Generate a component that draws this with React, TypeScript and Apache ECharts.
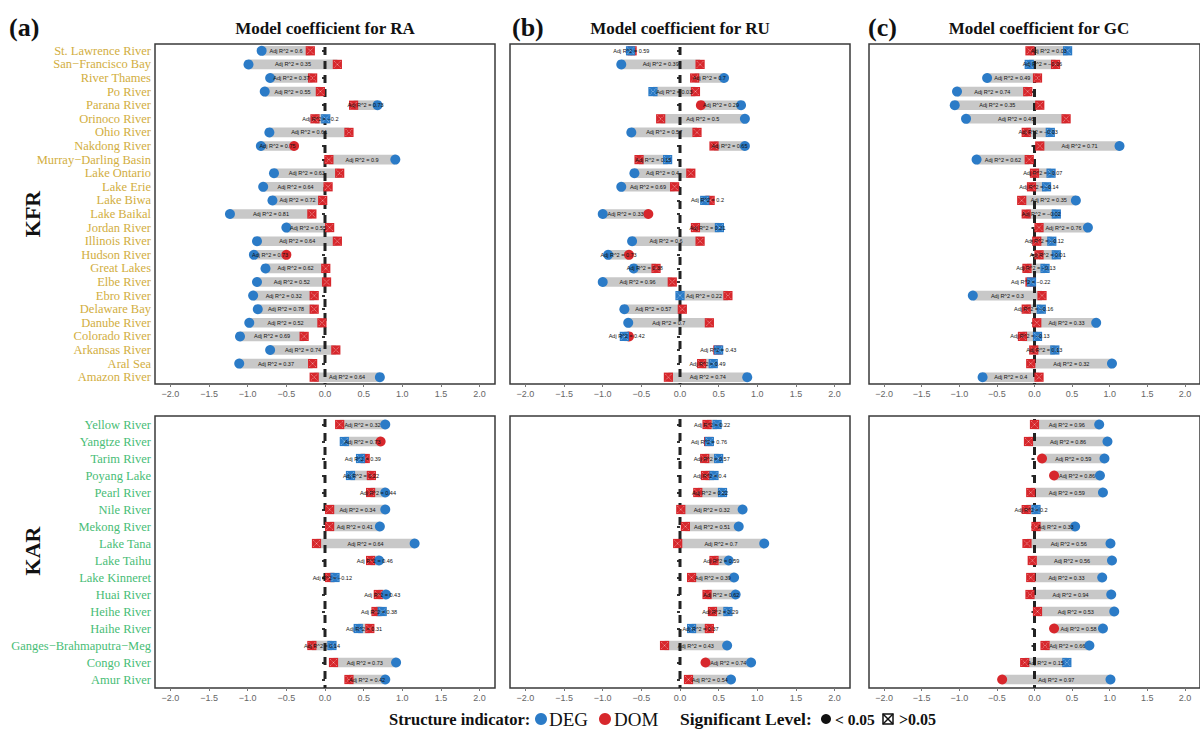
import React, { useEffect, useRef } from "react";
import * as echarts from "echarts";

const kfrNames = ["St. Lawrence River","San−Francisco Bay","River Thames","Po River","Parana River","Orinoco River","Ohio River","Nakdong River","Murray−Darling Basin","Lake Ontario","Lake Erie","Lake Biwa","Lake Baikal","Jordan River","Illinois River","Hudson River","Great Lakes","Elbe River","Ebro River","Delaware Bay","Danube River","Colorado River","Arkansas River","Aral Sea","Amazon River"];
const karNames = ["Yellow River","Yangtze River","Tarim River","Poyang Lake","Pearl River","Nile River","Mekong River","Lake Tana","Lake Taihu","Lake Kinneret","Huai River","Heihe River","Haihe River","Ganges−Brahmaputra−Meghna","Congo River","Amur River"];
const xTicks = [-2, -1.5, -1, -0.5, 0, 0.5, 1, 1.5, 2];
const panelTitles = ["Model coefficient for RA", "Model coefficient for RU", "Model coefficient for GC"];
const panelTags = ["(a)", "(b)", "(c)"];

// RA
const raKfrDeg = [-0.82,-0.99,-0.71,-0.78,0.68,0.01,-0.72,-0.83,0.91,-0.66,-0.80,-0.68,-1.23,-0.50,-0.88,-0.92,-0.77,-0.88,-0.93,-0.87,-0.98,-1.10,-0.71,-1.11,0.71];
const raKfrDegSig = [1,1,1,1,1,0,1,1,1,1,1,1,1,1,1,1,1,1,1,1,1,1,1,1,1];
const raKfrDom = [-0.19,0.16,-0.16,-0.06,0.37,-0.13,0.31,-0.40,0.05,0.19,0.04,-0.03,-0.17,0.06,0.16,-0.50,0.01,0.02,-0.14,-0.14,-0.04,-0.27,0.14,-0.16,-0.14];
const raKfrDomSig = [0,0,0,0,0,0,0,1,0,0,0,0,0,0,0,1,0,0,0,0,0,0,0,0,0];
const raKfrR2 = ["0.6","0.35","0.37","0.55","0.73","−0.2","0.61","0.75","0.9","0.63","0.64","0.72","0.81","0.55","0.64","0.73","0.62","0.52","0.32","0.78","0.52","0.69","0.74","0.37","0.64"];

const raKarDeg = [0.78,0.25,0.46,0.33,0.78,0.78,0.71,1.16,0.70,0.13,0.79,0.74,0.43,0.09,0.92,0.78];
const raKarDegSig = [1,0,0,0,1,1,1,1,1,0,1,0,0,0,1,1];
const raKarDom = [0.19,0.72,0.52,0.60,0.59,0.06,0.06,-0.11,0.59,0.06,0.69,0.66,0.58,-0.17,0.11,0.31];
const raKarDomSig = [0,1,0,0,0,0,0,0,0,0,0,0,0,0,0,0];
const raKarR2 = ["0.32","0.73","0.39","0.22","0.44","0.34","0.41","0.64","0.46","−0.12","0.43","0.38","0.31","0.14","0.73","0.42"];

// RU
const ruKfrDeg = [-0.64,-0.76,0.57,-0.35,0.79,0.84,-0.63,0.84,-0.16,-0.59,-0.76,0.32,-1.0,0.51,-0.62,-0.93,-0.60,-1.0,0.0,-0.72,-0.67,-0.72,0.50,0.43,0.87];
const ruKfrDegSig = [0,1,1,0,1,1,1,1,0,1,1,0,1,0,1,1,1,1,0,1,1,0,0,0,1];
const ruKfrDom = [-0.62,0.26,0.19,0.20,0.27,-0.25,0.22,0.44,-0.53,0.14,-0.07,0.39,-0.41,0.20,0.26,-0.66,-0.31,-0.10,0.62,0.03,0.38,-0.66,0.49,0.28,-0.15];
const ruKfrDomSig = [0,0,0,0,1,0,0,0,0,0,0,0,1,0,0,1,0,0,0,0,0,1,0,0,0];
const ruKfrR2 = ["0.59","0.39","0.7","0.03","0.29","0.5","0.57","0.65","0.15","0.4","0.69","0.2","0.33","0.21","0.6","0.73","0.38","0.96","0.22","0.57","0.7","0.42","0.43","0.49","0.74"];

const ruKarDeg = [0.48,0.38,0.50,0.44,0.55,0.81,0.76,1.09,0.63,0.70,0.72,0.62,0.15,0.61,0.92,0.66];
const ruKarDegSig = [0,0,0,0,0,1,1,1,1,1,1,0,0,1,1,1];
const ruKarDom = [0.35,0.37,0.32,0.33,0.23,0.01,0.07,-0.03,0.44,0.15,0.35,0.42,0.38,-0.20,0.33,0.11];
const ruKarDomSig = [0,0,0,0,0,0,0,0,0,0,0,0,0,0,1,0];
const ruKarR2 = ["0.22","0.76","0.57","0.4","0.22","0.32","0.51","0.7","0.59","0.39","0.62","0.29","0.37","0.43","0.74","0.54"];

// GC
const gcKfrDeg = [0.44,-0.07,-0.63,-1.03,-1.06,-0.91,0.21,1.13,-0.77,0.22,0.16,0.55,0.29,0.71,0.23,0.29,0.14,-0.04,-0.82,0.09,0.82,0.04,0.27,1.03,-0.69];
const gcKfrDegSig = [0,0,1,1,1,1,0,1,1,0,0,1,0,1,0,0,0,0,1,0,1,0,0,1,1];
const gcKfrDom = [-0.06,0.28,0.04,-0.09,0.07,0.42,-0.11,0.07,-0.07,0.0,-0.04,-0.17,-0.11,0.06,0.03,0.06,-0.10,-0.06,0.10,-0.11,0.03,-0.16,-0.01,-0.05,0.06];
const gcKfrDomSig = [0,0,0,0,0,0,0,0,0,0,0,0,0,0,0,0,0,0,0,0,0,0,0,0,0];
const gcKfrR2 = ["0.03","−0.06","0.49","0.74","0.35","0.46","−0.03","0.71","0.62","−0.07","−0.14","0.35","−0.02","0.76","−0.12","0.01","−0.13","−0.22","0.3","−0.16","0.33","−0.13","0.13","0.32","0.4"];

const gcKarDeg = [0.86,0.97,0.93,0.87,0.91,0.02,0.54,1.01,1.03,0.90,1.02,1.06,0.91,0.73,0.43,1.01];
const gcKarDegSig = [1,1,1,1,1,0,1,1,1,1,1,1,1,1,0,1];
const gcKarDom = [0.0,-0.08,0.10,0.26,-0.05,-0.11,0.02,-0.10,-0.03,-0.05,-0.06,0.04,0.26,0.14,-0.13,-0.43];
const gcKarDomSig = [0,0,1,1,0,0,0,0,0,0,0,0,1,0,0,1];
const gcKarR2 = ["0.96","0.86","0.59","0.86","0.59","0.2","0.33","0.56","0.56","0.33","0.94","0.53","0.58","0.66","0.15","0.97"];

const DEG_COLOR = "#2b7bc7";
const DOM_COLOR = "#d7272c";
const KFR_COLOR = "#d2ae3e";
const KAR_COLOR = "#48bd76";

const panels = [
  { col: 0, row: 0, names: kfrNames, deg: raKfrDeg, degSig: raKfrDegSig, dom: raKfrDom, domSig: raKfrDomSig, r2: raKfrR2 },
  { col: 0, row: 1, names: karNames, deg: raKarDeg, degSig: raKarDegSig, dom: raKarDom, domSig: raKarDomSig, r2: raKarR2 },
  { col: 1, row: 0, names: kfrNames, deg: ruKfrDeg, degSig: ruKfrDegSig, dom: ruKfrDom, domSig: ruKfrDomSig, r2: ruKfrR2 },
  { col: 1, row: 1, names: karNames, deg: ruKarDeg, degSig: ruKarDegSig, dom: ruKarDom, domSig: ruKarDomSig, r2: ruKarR2 },
  { col: 2, row: 0, names: kfrNames, deg: gcKfrDeg, degSig: gcKfrDegSig, dom: gcKfrDom, domSig: gcKfrDomSig, r2: gcKfrR2 },
  { col: 2, row: 1, names: karNames, deg: gcKarDeg, degSig: gcKarDegSig, dom: gcKarDom, domSig: gcKarDomSig, r2: gcKarR2 },
];

const colLeft = [155, 510, 869];
const rowTop = [44, 416];
const rowHeight = [340, 272];

function markerEl(x: number, y: number, color: string, sig: number): any {
  if (sig) return { type: "circle", shape: { cx: x, cy: y, r: 5 }, style: { fill: color } };
  const h = 4.6;
  const d = 1.4;
  return {
    type: "group",
    children: [
      { type: "rect", shape: { x: x - h, y: y - h, width: 2 * h, height: 2 * h }, style: { fill: color } },
      { type: "line", shape: { x1: x - h + d, y1: y - h + d, x2: x + h - d, y2: y + h - d }, style: { stroke: "rgba(255,255,255,0.75)", lineWidth: 0.7, lineDash: [1, 1] } },
      { type: "line", shape: { x1: x - h + d, y1: y + h - d, x2: x + h - d, y2: y - h + d }, style: { stroke: "rgba(255,255,255,0.75)", lineWidth: 0.7, lineDash: [1, 1] } },
    ],
  };
}

function fmtTick(v: number) {
  if (Math.abs(v) < 1e-9) return "0.0";
  return (v < 0 ? "−" : "") + Math.abs(v).toFixed(1);
}

export default function App() {
  const ref = useRef<HTMLDivElement>(null);
  useEffect(() => {
    if (!ref.current) return;
    const chart = echarts.init(ref.current, null, { renderer: "svg" });
    const grids: any[] = [];
    const xAxes: any[] = [];
    const yAxes: any[] = [];
    const series: any[] = [];
    panels.forEach((p, i) => {
      grids.push({
        left: colLeft[p.col], top: rowTop[p.row], width: 340, height: rowHeight[p.row],
        show: true, borderColor: "#3a3a3a", borderWidth: 1.5, backgroundColor: "transparent",
      });
      xAxes.push({
        gridIndex: i, type: "value", min: -2.2, max: 2.2,
        splitLine: { show: false }, axisLine: { show: false },
        axisTick: { show: true, customValues: xTicks, length: 3, lineStyle: { color: "#777", width: 1 } },
        axisLabel: { customValues: xTicks, formatter: fmtTick, color: "#666", fontSize: 9, margin: 5, fontFamily: "Liberation Sans" },
      });
      yAxes.push({
        gridIndex: i, type: "category", inverse: true, data: p.names,
        axisLine: { show: false },
        axisTick: { show: true, alignWithLabel: true, interval: 0, length: 3, lineStyle: { color: "#333", width: 2 } },
        axisLabel: {
          show: p.col === 0, interval: 0, color: p.row === 0 ? KFR_COLOR : KAR_COLOR, fontSize: 12.5,
          fontFamily: "Liberation Serif", margin: 4, width: 148, overflow: "truncate", ellipsis: "",
        },
      });
      const rows = p.names.map((_, k) => [k, p.deg[k], p.dom[k]]);
      series.push({
        type: "custom", xAxisIndex: i, yAxisIndex: i, z: 2, clip: false,
        encode: { x: [1, 2], y: 0 },
        data: rows,
        renderItem: (params: any, api: any) => {
          const k = api.value(0);
          const a = api.coord([api.value(1), k]);
          const b = api.coord([api.value(2), k]);
          const x0 = Math.min(a[0], b[0]);
          const x1 = Math.max(a[0], b[0]);
          return { type: "rect", shape: { x: x0, y: a[1] - 4.8, width: Math.max(x1 - x0, 0.5), height: 9.6 }, style: { fill: "#c8c8c8" } };
        },
      });
      series.push({
        type: "custom", xAxisIndex: i, yAxisIndex: i, z: 3, clip: false,
        encode: { x: 0 },
        data: [[0]],
        renderItem: (params: any, api: any) => {
          const cs = params.coordSys;
          const x = api.coord([api.value(0), 0])[0];
          return { type: "line", shape: { x1: x, y1: cs.y + 3, x2: x, y2: cs.y + cs.height }, style: { stroke: "#222", lineWidth: 3, lineDash: [8, 6] } };
        },
      });
      series.push({
        type: "custom", xAxisIndex: i, yAxisIndex: i, z: 4, clip: false,
        encode: { x: [1, 2], y: 0 },
        data: rows,
        renderItem: (params: any, api: any) => {
          const k = api.value(0);
          const a = api.coord([api.value(1), k]);
          const b = api.coord([api.value(2), k]);
          const idx = params.dataIndex;
          return {
            type: "group",
            children: [
              markerEl(b[0], b[1], DOM_COLOR, p.domSig[idx]),
              markerEl(a[0], a[1], DEG_COLOR, p.degSig[idx]),
              {
                type: "text", x: (a[0] + b[0]) / 2, y: a[1],
                style: { text: "Adj R^2 = " + p.r2[idx], fontSize: 5.5, fill: "#111", align: "center", verticalAlign: "middle", fontFamily: "Liberation Sans" },
              },
            ],
          };
        },
      });
    });

    const serif = "Liberation Serif";
    const graphic: any[] = [];
    const tagX = [9, 512, 868];
    [0, 1, 2].forEach((c) => {
      const center = colLeft[c] + 170;
      graphic.push({ type: "text", x: center, y: 28, style: { text: panelTitles[c], font: `bold 17px "${serif}"`, fill: "#111", align: "center", verticalAlign: "middle" } });
      graphic.push({ type: "text", x: tagX[c], y: 27, style: { text: panelTags[c], font: `bold 26px "${serif}"`, fill: "#111", align: "left", verticalAlign: "middle" } });
    });
    graphic.push({ type: "text", x: 32, y: 214, rotation: Math.PI / 2, style: { text: "KFR", font: `bold 22px "${serif}"`, fill: "#111", align: "center", verticalAlign: "middle" } });
    graphic.push({ type: "text", x: 32, y: 551, rotation: Math.PI / 2, style: { text: "KAR", font: `bold 22px "${serif}"`, fill: "#111", align: "center", verticalAlign: "middle" } });
    const ly = 719;
    graphic.push({ type: "text", x: 389, y: ly, style: { text: "Structure indicator:", font: `bold 16.5px "${serif}"`, fill: "#111", align: "left", verticalAlign: "middle" } });
    graphic.push({ type: "circle", shape: { cx: 541, cy: ly, r: 6 }, style: { fill: DEG_COLOR } });
    graphic.push({ type: "text", x: 549, y: ly, style: { text: "DEG", font: `19px "${serif}"`, fill: "#111", align: "left", verticalAlign: "middle" } });
    graphic.push({ type: "circle", shape: { cx: 605, cy: ly, r: 6 }, style: { fill: DOM_COLOR } });
    graphic.push({ type: "text", x: 614, y: ly, style: { text: "DOM", font: `19px "${serif}"`, fill: "#111", align: "left", verticalAlign: "middle" } });
    graphic.push({ type: "text", x: 680, y: ly, style: { text: "Significant Level:", font: `bold 17.5px "${serif}"`, fill: "#111", align: "left", verticalAlign: "middle" } });
    graphic.push({ type: "circle", shape: { cx: 826, cy: ly, r: 5 }, style: { fill: "#111" } });
    graphic.push({ type: "text", x: 835, y: ly, style: { text: "< 0.05", font: `bold 15.5px "${serif}"`, fill: "#111", align: "left", verticalAlign: "middle" } });
    graphic.push({ type: "rect", shape: { x: 883, y: ly - 5, width: 10, height: 10 }, style: { fill: "#fff", stroke: "#111", lineWidth: 1.5 } });
    graphic.push({ type: "line", shape: { x1: 883, y1: ly - 5, x2: 893, y2: ly + 5 }, style: { stroke: "#111", lineWidth: 1.5 } });
    graphic.push({ type: "line", shape: { x1: 883, y1: ly + 5, x2: 893, y2: ly - 5 }, style: { stroke: "#111", lineWidth: 1.5 } });
    graphic.push({ type: "text", x: 899, y: ly, style: { text: ">0.05", font: `bold 16px "${serif}"`, fill: "#111", align: "left", verticalAlign: "middle" } });

    chart.setOption({
      animation: false,
      backgroundColor: "#ffffff",
      grid: grids,
      xAxis: xAxes,
      yAxis: yAxes,
      series,
      graphic,
    });
    return () => chart.dispose();
  }, []);
  return <div ref={ref} style={{ position: "fixed", left: 0, top: 0, width: 1200, height: 731 }} />;
}
